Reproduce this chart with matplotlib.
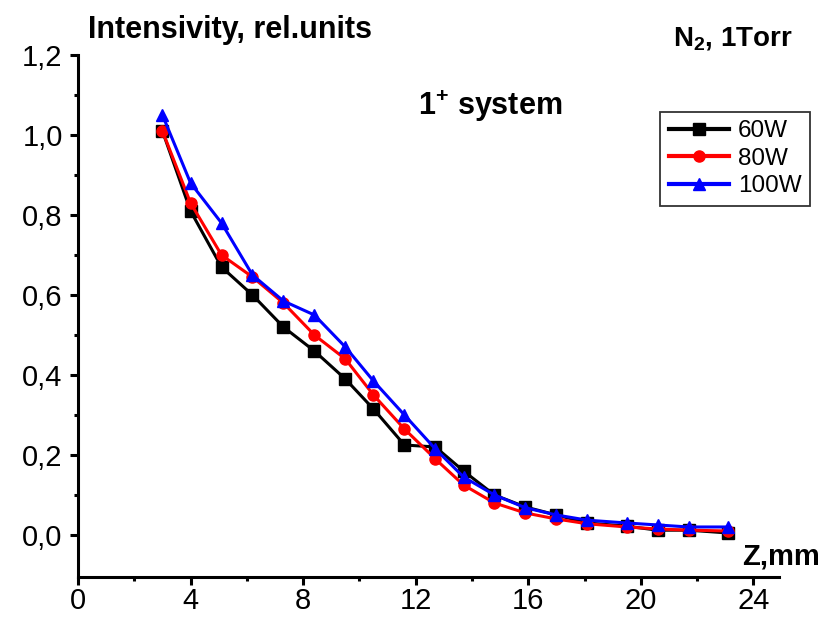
import numpy as np
import matplotlib
matplotlib.use('Agg')
import matplotlib.pyplot as plt
import matplotlib as mpl

plt.rcParams['font.family'] = ['Liberation Sans', 'DejaVu Sans']
plt.rcParams['mathtext.fontset'] = 'custom'
plt.rcParams['mathtext.rm'] = 'Liberation Sans:bold'
plt.rcParams['mathtext.default'] = 'rm'

# data
z = [3.0, 4.0, 5.1, 6.2, 7.3, 8.4, 9.5, 10.5, 11.6, 12.7, 13.7, 14.8, 15.9, 17.0, 18.1, 19.5, 20.6, 21.7, 23.1]
i_60w = [1.01, 0.81, 0.67, 0.60, 0.52, 0.46, 0.39, 0.315, 0.225, 0.22, 0.16, 0.10, 0.07, 0.05, 0.03, 0.022, 0.012, 0.012, 0.005]
i_80w = [1.01, 0.83, 0.70, 0.645, 0.58, 0.50, 0.44, 0.35, 0.265, 0.19, 0.125, 0.08, 0.055, 0.04, 0.028, 0.02, 0.015, 0.012, 0.01]
i_100w = [1.05, 0.88, 0.78, 0.65, 0.585, 0.55, 0.47, 0.385, 0.30, 0.215, 0.145, 0.10, 0.068, 0.05, 0.037, 0.03, 0.025, 0.02, 0.02]

series = [('60W', i_60w, 'black', 's'),
          ('80W', i_80w, 'red', 'o'),
          ('100W', i_100w, 'blue', '^')]

x_ticks = [0, 4, 8, 12, 16, 20, 24]
y_ticks = [0.0, 0.2, 0.4, 0.6, 0.8, 1.0, 1.2]

fig = plt.figure(figsize=(8.23, 6.21), dpi=100)
ax = fig.add_axes([0.0948, 0.0709, 0.852, 0.8405])

for lab, vals, c, m in series:
    ax.plot(z, vals, color=c, marker=m, lw=2.2, ms=8, label=lab)

ax.set_xlim(0, 24.92)
ax.set_ylim(-0.105, 1.2)
ax.set_xticks(x_ticks)
ax.set_yticks(y_ticks)
ax.set_xticks(np.arange(2, 24, 4), minor=True)
ax.set_yticks(np.arange(0.1, 1.2, 0.2), minor=True)
ax.yaxis.set_major_formatter(mpl.ticker.FuncFormatter(lambda v, p: f'{v:.1f}'.replace('.', ',')))

for s in ['top', 'right']:
    ax.spines[s].set_visible(False)
for s in ['left', 'bottom']:
    ax.spines[s].set_linewidth(2.2)
ax.tick_params(which='major', length=6, width=2.2, labelsize=21)
ax.tick_params(axis='x', which='major', pad=1.5)
ax.tick_params(axis='y', which='major', pad=5)
ax.tick_params(which='minor', length=3, width=2.2)

leg = ax.legend(loc='upper right', bbox_to_anchor=(1.044, 0.891), fontsize=17.5, frameon=True,
                fancybox=False, edgecolor='black', handlelength=2.5, borderpad=0.35,
                labelspacing=0.22, handletextpad=0.35, borderaxespad=0)
leg.get_frame().set_linewidth(1.3)
for h in leg.get_lines():
    h.set_linewidth(3)

fig.text(0.107, 0.9388, 'Intensivity, rel.units', fontsize=22, fontweight='bold', ha='left', va='baseline')
fig.text(0.818, 0.926, r'N$_2$, 1Torr', fontsize=20, fontweight='bold', ha='left', va='baseline')
fig.text(0.508, 0.815, r'1$^{+}$ system', fontsize=22, fontweight='bold', ha='left', va='baseline')
fig.text(0.902, 0.0902, 'Z,mm', fontsize=21, fontweight='bold', ha='left', va='baseline')

fig.savefig('out.png', dpi=100)
